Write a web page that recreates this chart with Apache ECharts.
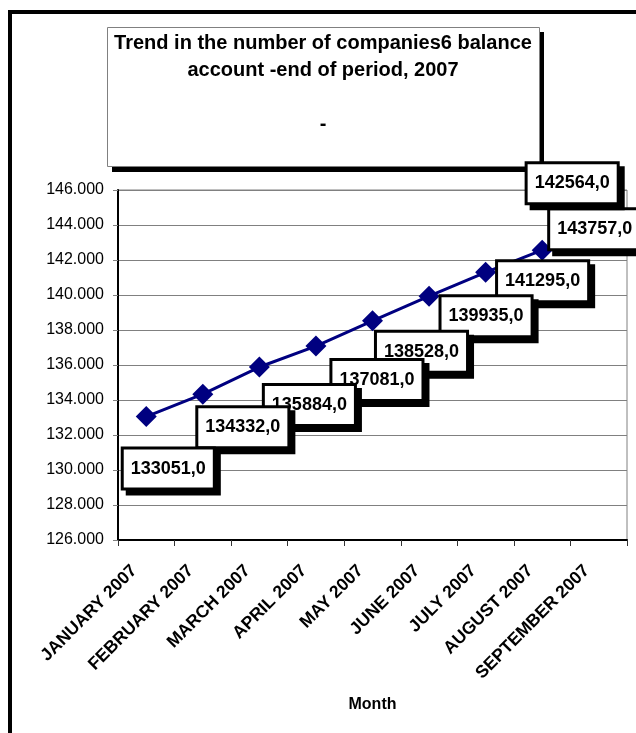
<!DOCTYPE html>
<html>
<head>
<meta charset="utf-8">
<script src="https://cdn.jsdelivr.net/npm/echarts@6/dist/echarts.min.js"></script>
<style>
html,body{margin:0;padding:0;background:#fff;}
#chart{width:636px;height:733px;}
</style>
</head>
<body>
<div id="chart"></div>
<script>
const months = ['JANUARY 2007','FEBRUARY 2007','MARCH 2007','APRIL 2007','MAY 2007','JUNE 2007','JULY 2007','AUGUST 2007','SEPTEMBER 2007'];
const companies = [133051, 134332, 135884, 137081, 138528, 139935, 141295, 142564, 143757];
const yMin = 126000, yMax = 146000, yStep = 2000;
const titleLines = ['Trend in the number of companies6 balance', 'account -end of period, 2007', '', '-'];
const axisTitle = 'Month';
// label placement (styling only)
const labelOffsets = [[22,52],[40,33],[50,38],[61,34],[49,31],[57,20],[57,9],[30,-67],[-4,0]];

const FONT = "'Liberation Sans', Arial, Helvetica, sans-serif";
const chart = echarts.init(document.getElementById('chart'), null, {renderer:'canvas'});

// built in reverse so that earlier months' labels are painted on top
const seriesData = companies.map((v, i) => ({
  value: [i, v],
  label: { offset: labelOffsets[i] }
})).reverse();

chart.setOption({
  animation: false,
  backgroundColor: '#fff',
  title: {
    text: titleLines.join('\n'),
    left: 323, top: 30, padding: 0,
    textAlign: 'center',
    textStyle: { fontFamily: FONT, fontWeight: 'bold', fontSize: 20, lineHeight: 27, color: '#000' }
  },
  graphic: [
    { type: 'rect', z: 0, shape: { x: 10, y: 12, width: 700, height: 800 },
      style: { fill: 'none', stroke: '#000', lineWidth: 4 } },
    { type: 'rect', z: 0, shape: { x: 112, y: 32, width: 432, height: 140 },
      style: { fill: '#000' } },
    { type: 'rect', z: 1, shape: { x: 107.5, y: 27.5, width: 432, height: 139 },
      style: { fill: '#fff', stroke: '#808080', lineWidth: 1 } }
  ],
  grid: {
    left: 118, right: 9, top: 190, bottom: 193,
    show: true, borderColor: '#808080', borderWidth: 1, backgroundColor: 'transparent',
    outerBoundsMode: 'none', containLabel: false
  },
  xAxis: {
    type: 'category',
    data: months,
    boundaryGap: true,
    name: axisTitle,
    nameLocation: 'middle',
    nameGap: 165,
    nameTextStyle: { fontFamily: FONT, fontWeight: 'bold', fontSize: 16, color: '#000', verticalAlign: 'middle' },
    axisLine: { show: true, lineStyle: { color: '#000', width: 2 } },
    axisTick: { show: true, length: 6, lineStyle: { color: '#333', width: 1 } },
    axisLabel: {
      interval: 0, rotate: 45, margin: 16, padding: [0, 17, 0, 0],
      fontFamily: FONT, fontWeight: 'bold', fontSize: 17.5, color: '#000'
    },
    splitLine: { show: false }
  },
  yAxis: {
    type: 'value',
    min: yMin, max: yMax, interval: yStep,
    axisLine: { show: true, lineStyle: { color: '#000', width: 2 } },
    axisTick: { show: true, length: 5, lineStyle: { color: '#808080', width: 1 } },
    axisLabel: {
      margin: 14, fontFamily: FONT, fontSize: 16, color: '#000',
      formatter: v => (v / 1000).toFixed(3)
    },
    splitLine: { show: true, lineStyle: { color: '#808080', width: 1 } }
  },
  series: [{
    type: 'line',
    data: seriesData,
    symbol: 'diamond',
    symbolSize: 21,
    itemStyle: { color: '#000080' },
    lineStyle: { color: '#000080', width: 3 },
    z: 3,
    label: {
      show: true,
      position: 'inside',
      formatter: p => p.value[1].toFixed(1).replace('.', ','),
      fontFamily: FONT, fontWeight: 'bold', fontSize: 18, lineHeight: 18, color: '#000',
      backgroundColor: '#fff', borderColor: '#000', borderWidth: 3,
      padding: [10, 7],
      shadowColor: '#000', shadowBlur: 0, shadowOffsetX: 5, shadowOffsetY: 5
    },
    emphasis: { disabled: true }
  }]
});
</script>
</body>
</html>
